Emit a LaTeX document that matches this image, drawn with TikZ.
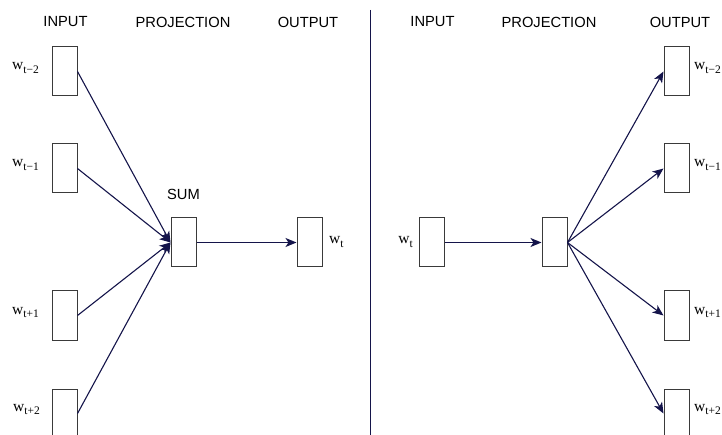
\documentclass[tikz,border=0pt]{standalone}
\usepackage{fontspec}
\setmainfont{Liberation Serif}
\newfontfamily\hv{Liberation Sans}
\usetikzlibrary{arrows.meta}
\definecolor{navy}{HTML}{14144A}
\definecolor{boxgray}{HTML}{3A3A3A}
\newcommand\wlabel[1]{w\raisebox{-3.5pt}{\fontsize{11.5}{12}\selectfont #1}}
\begin{document}
\begin{tikzpicture}[x=1pt,y=-1pt,
  wbox/.style={draw=boxgray, line width=1pt, fill=white, minimum width=25pt, minimum height=49pt, inner sep=0pt},
  hdr/.style={font=\hv\fontsize{14.7}{16}\selectfont, inner sep=0pt},
  wlab/.style={font=\fontsize{15.5}{17}\selectfont, inner sep=0pt},
  conn/.style={draw=navy, line width=1.1pt, -{Stealth[length=11pt,width=9pt,inset=3pt]}}]
\useasboundingbox (0,0) rectangle (722,435);
% headers
\node[hdr] (h1) at (65.5,22) {INPUT};
\node[hdr] (h2) at (183,22) {PROJECTION};
\node[hdr] (h3) at (308,22) {OUTPUT};
\node[hdr] (h4) at (432.5,22) {INPUT};
\node[hdr] (h5) at (549,22) {PROJECTION};
\node[hdr] (h6) at (680,22) {OUTPUT};
% divider
\coordinate (dtop) at (370,10);
\coordinate (dbot) at (370,435);
\draw[navy, line width=1pt] (dtop) -- (dbot);
% left: CBOW
\node[wbox] (in1) at (64.5,71.5) {};
\node[wbox] (in2) at (64.5,168.5) {};
\node[wbox] (in3) at (64.5,315.5) {};
\node[wbox] (in4) at (64.5,413.5) {};
\node[wbox] (sum) at (183.5,242.5) {};
\node[wbox] (out) at (309.5,242.5) {};
\node[hdr] (sl) at (183.5,194) {SUM};
\node[wlab, anchor=base east] (l1) at (39,70) {\wlabel{t−2}};
\node[wlab, anchor=base east] (l2) at (39,167) {\wlabel{t−1}};
\node[wlab, anchor=base east] (l3) at (39,314) {\wlabel{t+1}};
\node[wlab, anchor=base east] (l4) at (40,411) {\wlabel{t+2}};
\node[wlab, anchor=base west] (lo) at (329,244) {\wlabel{t}};
\draw[conn] (in1.east) -- (sum.west);
\draw[conn] (in2.east) -- (sum.west);
\draw[conn] (in3.east) -- (sum.west);
\draw[conn] (in4.east) -- (sum.west);
\draw[conn] (sum.east) -- (out.west);
% right: skip-gram
\node[wbox] (rin) at (431.5,242.5) {};
\node[wbox] (proj) at (554.5,242.5) {};
\node[wbox] (o1) at (676.5,71.5) {};
\node[wbox] (o2) at (676.5,168.5) {};
\node[wbox] (o3) at (676.5,315.5) {};
\node[wbox] (o4) at (676.5,413.5) {};
\node[wlab, anchor=base east] (rl) at (413,244) {\wlabel{t}};
\node[wlab, anchor=base west] (r1) at (694,70) {\wlabel{t−2}};
\node[wlab, anchor=base west] (r2) at (694,167) {\wlabel{t−1}};
\node[wlab, anchor=base west] (r3) at (694,314) {\wlabel{t+1}};
\node[wlab, anchor=base west] (r4) at (694,411) {\wlabel{t+2}};
\draw[conn] (rin.east) -- (proj.west);
\draw[conn] (proj.east) -- (o1.west);
\draw[conn] (proj.east) -- (o2.west);
\draw[conn] (proj.east) -- (o3.west);
\draw[conn] (proj.east) -- (o4.west);
\end{tikzpicture}
\end{document}
